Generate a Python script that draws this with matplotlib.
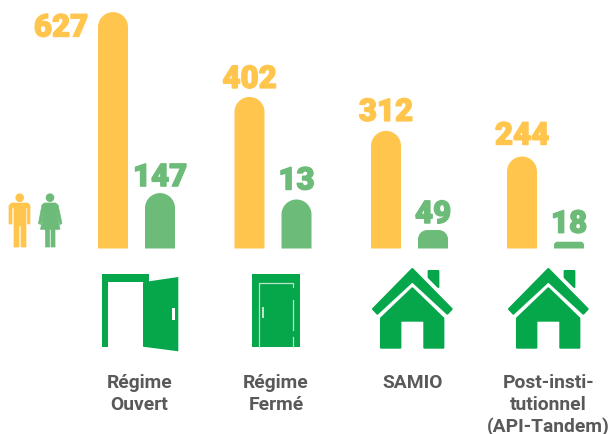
import matplotlib
matplotlib.use('Agg')
import matplotlib.pyplot as plt
import matplotlib.patheffects as pe
from matplotlib.path import Path
from matplotlib.patches import PathPatch, Polygon, Circle, Rectangle

categories = ['Régime\nOuvert', 'Régime\nFermé', 'SAMIO', 'Post-insti-\ntutionnel\n(API-Tandem)']
yellow_values = [627, 402, 312, 244]
green_values = [147, 13, 49, 18]
# the 13 bar is drawn much taller than its number in the source graphic
green_drawn = [147, 130, 49, 18]

YELLOW = '#FFC54D'
GREEN = '#6CBB78'
ICON = '#06A64B'
GREY = '#595959'

W, H = 611, 435
BASE = 249.5
PX_PER_UNIT = 0.377

# pixels between bar top and number baseline
yellow_gap = [0, 9, 10, 12]
green_gap = [7, 10, 7, 9]

plt.rcParams['font.family'] = ['Roboto', 'DejaVu Sans']

fig = plt.figure(figsize=(W / 100, H / 100), dpi=100)

# bars: x in pixels, y in values
ax = fig.add_axes([0, (H - BASE) / H, 1, BASE / H])
ax.set_xlim(0, W)
ax.set_ylim(0, BASE / PX_PER_UNIT)
ax.axis('off')

# icons and labels: plain pixel coordinates
ia = fig.add_axes([0, 0, 1, 1], zorder=-1)
ia.set_xlim(0, W)
ia.set_ylim(H, 0)
ia.axis('off')


def round_bar(xc, value, color):
    hw = 15
    rx = min(hw, value * PX_PER_UNIT * 0.5)
    ry = rx / PX_PER_UNIT
    k = 0.5523
    l, r = xc - hw, xc + hw
    verts = [(l, 0), (l, value - ry),
             (l, value - ry + k * ry), (l + rx - k * rx, value), (l + rx, value),
             (r - rx, value),
             (r - rx + k * rx, value), (r, value - ry + k * ry), (r, value - ry),
             (r, 0), (l, 0)]
    codes = [Path.MOVETO, Path.LINETO,
             Path.CURVE4, Path.CURVE4, Path.CURVE4,
             Path.LINETO,
             Path.CURVE4, Path.CURVE4, Path.CURVE4,
             Path.LINETO, Path.CLOSEPOLY]
    ax.add_patch(PathPatch(Path(verts, codes), fc=color, ec='none'))


def value_label(x, value, shown, color, gap):
    ax.annotate(str(shown), (x, value), xytext=(0, gap * 0.72), textcoords='offset points',
                ha='center', va='baseline', fontsize=22.5, fontweight='black',
                color=color, annotation_clip=False,
                path_effects=[pe.withStroke(linewidth=1.0, foreground=color)])


def poly(pts, color=ICON, lw=0):
    ia.add_patch(Polygon(pts, closed=True, fc=color, ec=color if lw else 'none',
                         lw=lw, joinstyle='round'))


def open_door():
    poly([(101.5, 275), (149, 275), (149, 283.3), (107.5, 283.3), (107.5, 347.7), (101.5, 347.7)])
    poly([(143, 283.3), (149, 282.3), (178.3, 278), (178.3, 352.3), (143, 347.7)])
    ia.add_patch(Rectangle((172, 309), 2.6, 12, fc='white', ec='none'))


def closed_door():
    ia.add_patch(Rectangle((252.3, 275), 47.4, 72.7, fc=ICON, ec='none'))
    ia.plot([258.8, 258.8, 293.3, 293.3], [347.7, 283.6, 283.6, 288], color='#BDE5CC', lw=0.9)
    ia.plot([293.3, 293.3], [301, 331], color='#BDE5CC', lw=0.9)
    ia.plot([293.3, 293.3], [338, 347.7], color='#BDE5CC', lw=0.9)
    ia.add_patch(Rectangle((262, 308), 2, 10.7, fc='#BDE5CC', ec='none'))


def house(dx):
    def p(pts):
        return [(x / 3 + 360 + dx, y / 3 + 260) for x, y in pts]
    poly(p([(157, 30), (275, 150), (262, 164), (157, 67), (52, 164), (39, 150)]), lw=1.5)
    poly(p([(206, 36), (235, 36), (235, 84), (206, 55)]), lw=1.5)
    poly(p([(157, 88), (250, 178), (250, 266), (193, 266), (193, 185), (121, 185),
            (121, 266), (63, 266), (63, 178)]), lw=1.5)


def people():
    ia.add_patch(Circle((19.7, 198.7), 4.3, fc=YELLOW, ec='none'))
    poly([(11.5, 204), (27.5, 204), (30, 206.5), (30, 225), (27.5, 225), (27.5, 209),
          (26, 209), (26, 248), (21, 248), (21, 227), (19, 227), (19, 248), (14, 248),
          (14, 209), (12, 209), (12, 225), (9, 225), (9, 206.5)], YELLOW, 0.5)
    ia.add_patch(Circle((50, 198.7), 4.3, fc=GREEN, ec='none'))
    poly([(44.5, 204), (55.5, 204), (58, 206), (62, 224.5), (60, 225.5), (56, 212),
          (60, 230.3), (55, 230.3), (55, 248), (51, 248), (51, 230.3), (49.5, 230.3),
          (49.5, 248), (45.5, 248), (45.5, 230.3), (40.5, 230.3), (44.5, 212),
          (40.5, 225.5), (38.5, 224.5), (42, 206)], GREEN, 0.5)


group_x = [136.5, 273, 409.5, 545.5]
for i, gx in enumerate(group_x):
    round_bar(gx - 23.5, yellow_values[i], YELLOW)
    round_bar(gx + 23.5, green_drawn[i], GREEN)
    if i == 0:
        # first number sits beside its bar, not above it
        ax.text(61, (BASE - 37.5) / PX_PER_UNIT, str(yellow_values[i]), ha='center', va='baseline',
                fontsize=22.5, fontweight='black', color=YELLOW,
                path_effects=[pe.withStroke(linewidth=1.0, foreground=YELLOW)])
    else:
        value_label(gx - 23.5, yellow_values[i], yellow_values[i], YELLOW, yellow_gap[i])
    value_label(gx + 23.5, green_drawn[i], green_values[i], GREEN, green_gap[i])

    ia.text(gx + 3, 374, categories[i], ha='center', va='top', fontsize=13.9,
            fontweight='bold', color=GREY, linespacing=1.26)

people()
open_door()
closed_door()
house(0)
house(136)

fig.savefig('out.png', dpi=100)
